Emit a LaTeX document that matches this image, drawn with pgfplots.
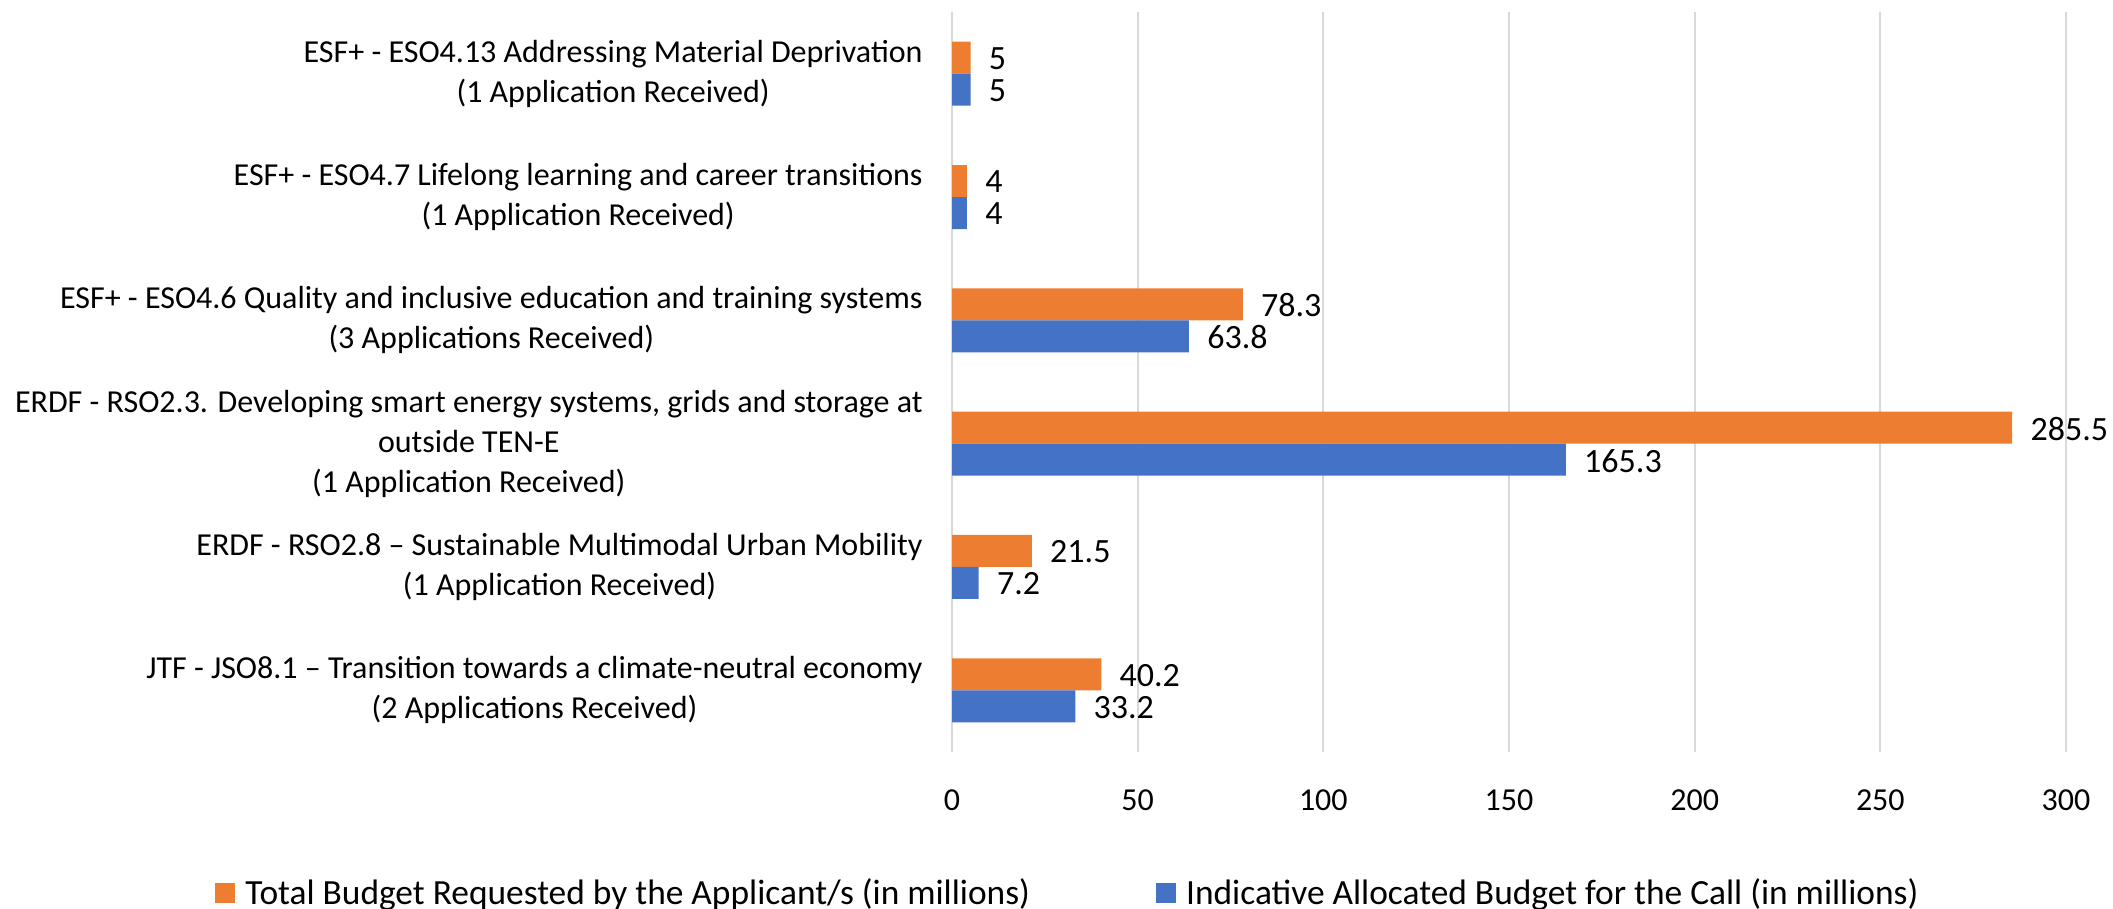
\documentclass[border=0pt]{standalone}
\usepackage{pgfplots}
\pgfplotsset{compat=1.18}
\usepackage{fontspec}
\setmainfont{Carlito}

\definecolor{orangebar}{HTML}{ED7D31}
\definecolor{bluebar}{HTML}{4472C4}
\definecolor{gridgray}{HTML}{D9D9D9}

\begin{document}
\begin{tikzpicture}[font=\fontsize{16}{20}\selectfont]
\useasboundingbox (0,0) rectangle (1056.5pt,454.5pt);
\begin{axis}[
    at={(476pt,78.5pt)}, anchor=south west,
    scale only axis,
    width=557pt, height=370pt,
    xbar, bar width=16pt,
    xmin=0, xmax=300,
    ymin=-0.5, ymax=5.5,
    xtick={0,50,100,150,200,250,300},
    ytick={0,1,2,3,4,5},
    yticklabels={
        {JTF - JSO8.1 -- Transition towards a climate-neutral economy\\(2 Applications Received)},
        {ERDF - RSO2.8 -- Sustainable Multimodal Urban Mobility\\(1 Application Received)},
        {ERDF - RSO2.3. Developing smart energy systems, grids and storage at\\outside TEN-E\\(1 Application Received)},
        {ESF+ - ESO4.6 Quality and inclusive education and training systems\\(3 Applications Received)},
        {ESF+ - ESO4.7 Lifelong learning and career transitions\\(1 Application Received)},
        {ESF+ - ESO4.13 Addressing Material Deprivation\\(1 Application Received)}
    },
    yticklabel style={align=center, inner sep=0pt, xshift=-14.5pt},
    xticklabel style={inner sep=0pt, yshift=-18.5pt},
    /pgf/number format/assume math mode=true,
    major tick length=0pt,
    axis line style={draw=none},
    xmajorgrids,
    grid style={gridgray, line width=1pt},
    nodes near coords,
    point meta=explicit symbolic,
    every node near coord/.append style={black, anchor=west, inner sep=0pt,
        xshift=9pt, yshift=-0.5pt, font=\fontsize{17}{20}\selectfont},
    legend columns=2,
    legend style={at={(0.105,-0.190)}, anchor=center, draw=none,
        font=\fontsize{17.7}{21}\selectfont,
        /tikz/every even column/.append style={column sep=61pt}},
    legend image code/.code={
        \fill[#1] (0pt,-5pt) rectangle (10pt,5pt);
        \path (13pt,0pt);},
]
\addplot[fill=orangebar, draw=none, bar shift=8pt] coordinates {
    (40.2,0) [40.2]
    (21.5,1) [21.5]
    (285.5,2) [285.5]
    (78.3,3) [78.3]
    (4,4) [4]
    (5,5) [5]
};
\addlegendentry{Total Budget Requested by the Applicant/s (in millions)}
\addplot[fill=bluebar, draw=none, bar shift=-8pt] coordinates {
    (33.2,0) [33.2]
    (7.2,1) [7.2]
    (165.3,2) [165.3]
    (63.8,3) [63.8]
    (4,4) [4]
    (5,5) [5]
};
\addlegendentry{Indicative Allocated Budget for the Call (in millions)}
\end{axis}
\end{tikzpicture}
\end{document}
